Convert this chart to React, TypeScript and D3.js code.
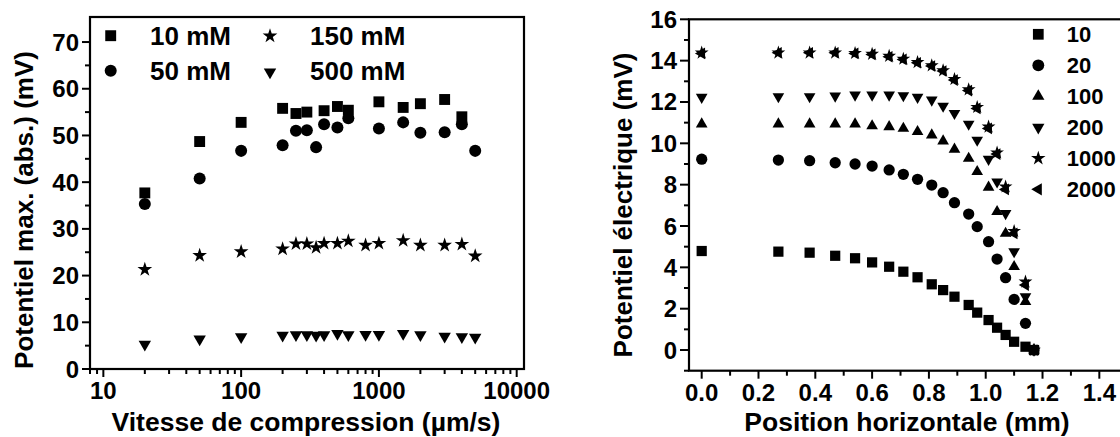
import React from 'react';
import * as d3 from 'd3';

const W = 1120;
const H = 437;
const FONT = '"Liberation Sans", Arial, Helvetica, sans-serif';

// ---------- Left panel data (speed in µm/s, potential in mV) ----------
const speeds10 = [20, 50, 100, 200, 250, 300, 400, 500, 600, 1000, 1500, 2000, 3000, 4000];
const pot10mM = [37.7, 48.7, 52.8, 55.8, 54.7, 55.0, 55.3, 56.2, 55.4, 57.2, 56.0, 56.8, 57.7, 54.0];
const speeds50 = [20, 50, 100, 200, 250, 300, 350, 400, 500, 600, 1000, 1500, 2000, 3000, 4000, 5000];
const pot50mM = [35.3, 40.8, 46.7, 47.9, 51.0, 51.1, 47.5, 52.4, 51.7, 53.7, 51.5, 52.8, 50.6, 50.7, 52.4, 46.7];
const speeds150 = [20, 50, 100, 200, 250, 300, 350, 400, 500, 600, 800, 1000, 1500, 2000, 3000, 4000, 5000];
const pot150mM = [21.3, 24.3, 25.1, 25.7, 26.8, 26.8, 26.0, 26.9, 26.9, 27.4, 26.5, 26.9, 27.5, 26.5, 26.5, 26.7, 24.2];
const speeds500 = [20, 50, 100, 200, 250, 300, 350, 400, 500, 600, 800, 1000, 1500, 2000, 3000, 4000, 5000];
const pot500mM = [5.3, 6.4, 6.9, 7.2, 7.3, 7.3, 7.2, 7.3, 7.6, 7.3, 7.35, 7.35, 7.6, 7.3, 7.0, 6.9, 6.8];
const leftLegend = ['10 mM', '50 mM', '150 mM', '500 mM'];
const leftXTicks = [10, 100, 1000, 10000];
const leftYTicks = [0, 10, 20, 30, 40, 50, 60, 70];

// ---------- Right panel data (position in mm, potential in mV) ----------
const posMM = [0, 0.27, 0.38, 0.47, 0.54, 0.6, 0.66, 0.71, 0.76, 0.81, 0.85, 0.89, 0.94, 0.97, 1.01, 1.04, 1.07, 1.1, 1.14, 1.17];
const potS10 = [4.79, 4.76, 4.71, 4.56, 4.44, 4.24, 4.03, 3.79, 3.52, 3.18, 2.9, 2.58, 2.18, 1.81, 1.45, 1.08, 0.73, 0.4, 0.16, 0.0];
const potS20 = [9.23, 9.19, 9.16, 9.06, 9.0, 8.9, 8.71, 8.5, 8.26, 7.98, 7.61, 7.13, 6.58, 5.97, 5.24, 4.4, 3.5, 2.45, 1.29, 0.0];
const potS100 = [10.93, 10.93, 10.93, 10.93, 10.93, 10.84, 10.8, 10.72, 10.56, 10.4, 10.11, 9.71, 9.27, 8.63, 7.87, 6.69, 5.64, 4.03, 2.34, 0.0];
const potS200 = [12.23, 12.26, 12.26, 12.29, 12.34, 12.34, 12.34, 12.31, 12.23, 12.1, 11.8, 11.45, 10.93, 10.16, 9.23, 8.14, 6.61, 4.76, 2.58, 0.0];
const potS1000 = [14.38, 14.38, 14.38, 14.38, 14.36, 14.32, 14.22, 14.08, 13.92, 13.76, 13.52, 13.1, 12.6, 11.75, 10.8, 9.55, 7.9, 5.75, 3.3, 0.0];
const potS2000 = [14.35, 14.38, 14.38, 14.38, 14.35, 14.3, 14.19, 14.06, 13.9, 13.74, 13.5, 13.06, 12.55, 11.69, 10.72, 9.48, 7.77, 5.64, 3.14, 0.0];
const rightLegend = ['10', '20', '100', '200', '1000', '2000'];
const rightXTicks = [0, 0.2, 0.4, 0.6, 0.8, 1.0, 1.2, 1.4];
const rightYTicks = [0, 2, 4, 6, 8, 10, 12, 14, 16];

type Shape = 'square' | 'circle' | 'star' | 'down' | 'up' | 'left';

function symPath(shape: Shape, scale: number): { d: string; rot: number } {
  const s = scale;
  switch (shape) {
    case 'square':
      return { d: d3.symbol().type(d3.symbolSquare).size(110 * s)()!, rot: 0 };
    case 'circle':
      return { d: d3.symbol().type(d3.symbolCircle).size(105 * s)()!, rot: 0 };
    case 'star':
      return { d: d3.symbol().type(d3.symbolStar).size(62 * s)()!, rot: 0 };
    case 'up':
      return { d: d3.symbol().type(d3.symbolTriangle).size(62 * s)()!, rot: 0 };
    case 'down':
      return { d: d3.symbol().type(d3.symbolTriangle).size(62 * s)()!, rot: 180 };
    case 'left':
      return { d: d3.symbol().type(d3.symbolTriangle).size(62 * s)()!, rot: -90 };
  }
}

function Marker({ shape, x, y, scale = 1 }: { shape: Shape; x: number; y: number; scale?: number }) {
  const { d, rot } = symPath(shape, scale);
  return <path d={d} transform={`translate(${x},${y}) rotate(${rot})`} fill="#000" />;
}

export default function App() {
  // Left panel scales
  const xL = d3.scaleLog().domain([8.0, 11300]).range([90, 524]);
  const yL = d3.scaleLinear().domain([0, 75.36]).range([369, 17]);
  const leftMinorX = xL.ticks().filter((t) => !leftXTicks.includes(t));
  const leftMinorY = [5, 15, 25, 35, 45, 55, 65];

  // Right panel scales
  const xR = d3.scaleLinear().domain([-0.0447, 1.508]).range([689, 1130]);
  const yR = d3.scaleLinear().domain([-1, 16]).range([370.7, 19.3]);
  const rightMinorX = [0.1, 0.3, 0.5, 0.7, 0.9, 1.1, 1.3];
  const rightMinorY = [-1, 1, 3, 5, 7, 9, 11, 13, 15];

  const leftSeries: { xs: number[]; ys: number[]; shape: Shape }[] = [
    { xs: speeds500, ys: pot500mM, shape: 'down' },
    { xs: speeds150, ys: pot150mM, shape: 'star' },
    { xs: speeds50, ys: pot50mM, shape: 'circle' },
    { xs: speeds10, ys: pot10mM, shape: 'square' },
  ];
  const rightSeries: { ys: number[]; shape: Shape }[] = [
    { ys: potS10, shape: 'square' },
    { ys: potS20, shape: 'circle' },
    { ys: potS100, shape: 'up' },
    { ys: potS200, shape: 'down' },
    { ys: potS1000, shape: 'star' },
    { ys: potS2000, shape: 'left' },
  ];
  const rightShapes: Shape[] = ['square', 'circle', 'up', 'down', 'star', 'left'];

  const txt = { fontFamily: FONT, fontWeight: 700, fill: '#000' } as const;

  return (
    <svg
      width={W}
      height={H}
      viewBox={`0 0 ${W} ${H}`}
      style={{ position: 'absolute', left: 0, top: 0, background: '#fff' }}
    >
      <rect width={W} height={H} fill="#fff" />

      {/* ================= LEFT PANEL ================= */}
      <g>
        {leftXTicks.map((t) => (
          <line key={'lxM' + t} x1={xL(t)} x2={xL(t)} y1={yL(0)} y2={yL(0) + 8} stroke="#000" strokeWidth={2} />
        ))}
        {leftMinorX.map((t) => (
          <line key={'lxm' + t} x1={xL(t)} x2={xL(t)} y1={yL(0)} y2={yL(0) + 5} stroke="#000" strokeWidth={2} />
        ))}
        {leftYTicks.map((t) => (
          <line key={'lyM' + t} x1={82} x2={90} y1={yL(t)} y2={yL(t)} stroke="#000" strokeWidth={2} />
        ))}
        {leftMinorY.map((t) => (
          <line key={'lym' + t} x1={85} x2={90} y1={yL(t)} y2={yL(t)} stroke="#000" strokeWidth={2} />
        ))}
        <rect x={90} y={17} width={434} height={352} fill="none" stroke="#000" strokeWidth={2.2} />
        {leftXTicks.map((t) => (
          <text key={'lxl' + t} x={xL(t)} y={399} textAnchor="middle" fontSize={24} {...txt}>
            {String(t)}
          </text>
        ))}
        {leftYTicks.map((t) => (
          <text key={'lyl' + t} x={79} y={yL(t) + 8.5} textAnchor="end" fontSize={24} {...txt}>
            {String(t)}
          </text>
        ))}
        <text x={306} y={431} textAnchor="middle" fontSize={26.5} {...txt}>
          Vitesse de compression (µm/s)
        </text>
        <text transform="translate(33,210) rotate(-90)" textAnchor="middle" fontSize={26} {...txt}>
          Potentiel max. (abs.) (mV)
        </text>
        {leftSeries.map((s, si) =>
          s.xs.map((v, i) => <Marker key={'l' + si + '-' + i} shape={s.shape} x={xL(v)} y={yL(s.ys[i])} scale={1.08} />)
        )}
        <Marker shape="square" x={110.7} y={35.7} scale={1.08} />
        <text x={150} y={45} fontSize={26} {...txt}>{leftLegend[0]}</text>
        <Marker shape="circle" x={110.7} y={70.7} scale={1.08} />
        <text x={150} y={79.5} fontSize={26} {...txt}>{leftLegend[1]}</text>
        <Marker shape="star" x={270} y={36} scale={1.08} />
        <text x={310} y={45} fontSize={26} {...txt}>{leftLegend[2]}</text>
        <Marker shape="down" x={270} y={72} scale={1.08} />
        <text x={310} y={79.5} fontSize={26} {...txt}>{leftLegend[3]}</text>
      </g>

      {/* ================= RIGHT PANEL ================= */}
      <g>
        {rightXTicks.map((t) => (
          <line key={'rxM' + t} x1={xR(t)} x2={xR(t)} y1={yR(-1)} y2={yR(-1) + 8} stroke="#000" strokeWidth={2} />
        ))}
        {rightMinorX.map((t) => (
          <line key={'rxm' + t} x1={xR(t)} x2={xR(t)} y1={yR(-1)} y2={yR(-1) + 5} stroke="#000" strokeWidth={2} />
        ))}
        {rightYTicks.map((t) => (
          <line key={'ryM' + t} x1={680} x2={689} y1={yR(t)} y2={yR(t)} stroke="#000" strokeWidth={2} />
        ))}
        {rightMinorY.map((t) => (
          <line key={'rym' + t} x1={684} x2={689} y1={yR(t)} y2={yR(t)} stroke="#000" strokeWidth={2} />
        ))}
        <rect x={689} y={yR(16)} width={460} height={yR(-1) - yR(16)} fill="none" stroke="#000" strokeWidth={2.2} />
        {rightXTicks.map((t) => (
          <text key={'rxl' + t} x={xR(t)} y={401} textAnchor="middle" fontSize={24} {...txt}>
            {t.toFixed(1)}
          </text>
        ))}
        {rightYTicks.map((t) => (
          <text key={'ryl' + t} x={677} y={yR(t) + 8.5} textAnchor="end" fontSize={24} {...txt}>
            {String(t)}
          </text>
        ))}
        <text x={907} y={431} textAnchor="middle" fontSize={26.5} {...txt}>
          Position horizontale (mm)
        </text>
        <text transform="translate(632,205) rotate(-90)" textAnchor="middle" fontSize={26} {...txt}>
          Potentiel électrique (mV)
        </text>
        {rightSeries.map((s, si) =>
          posMM.map((p, i) => <Marker key={'r' + si + '-' + i} shape={s.shape} x={xR(p)} y={yR(s.ys[i])} scale={0.95} />)
        )}
        {rightLegend.map((lab, i) => (
          <g key={'rl' + lab}>
            <Marker shape={rightShapes[i]} x={1038.3} y={34.3 + i * 31} scale={1.05} />
            <text x={1066.7} y={42 + i * 31} fontSize={22} {...txt}>
              {lab}
            </text>
          </g>
        ))}
      </g>
    </svg>
  );
}
